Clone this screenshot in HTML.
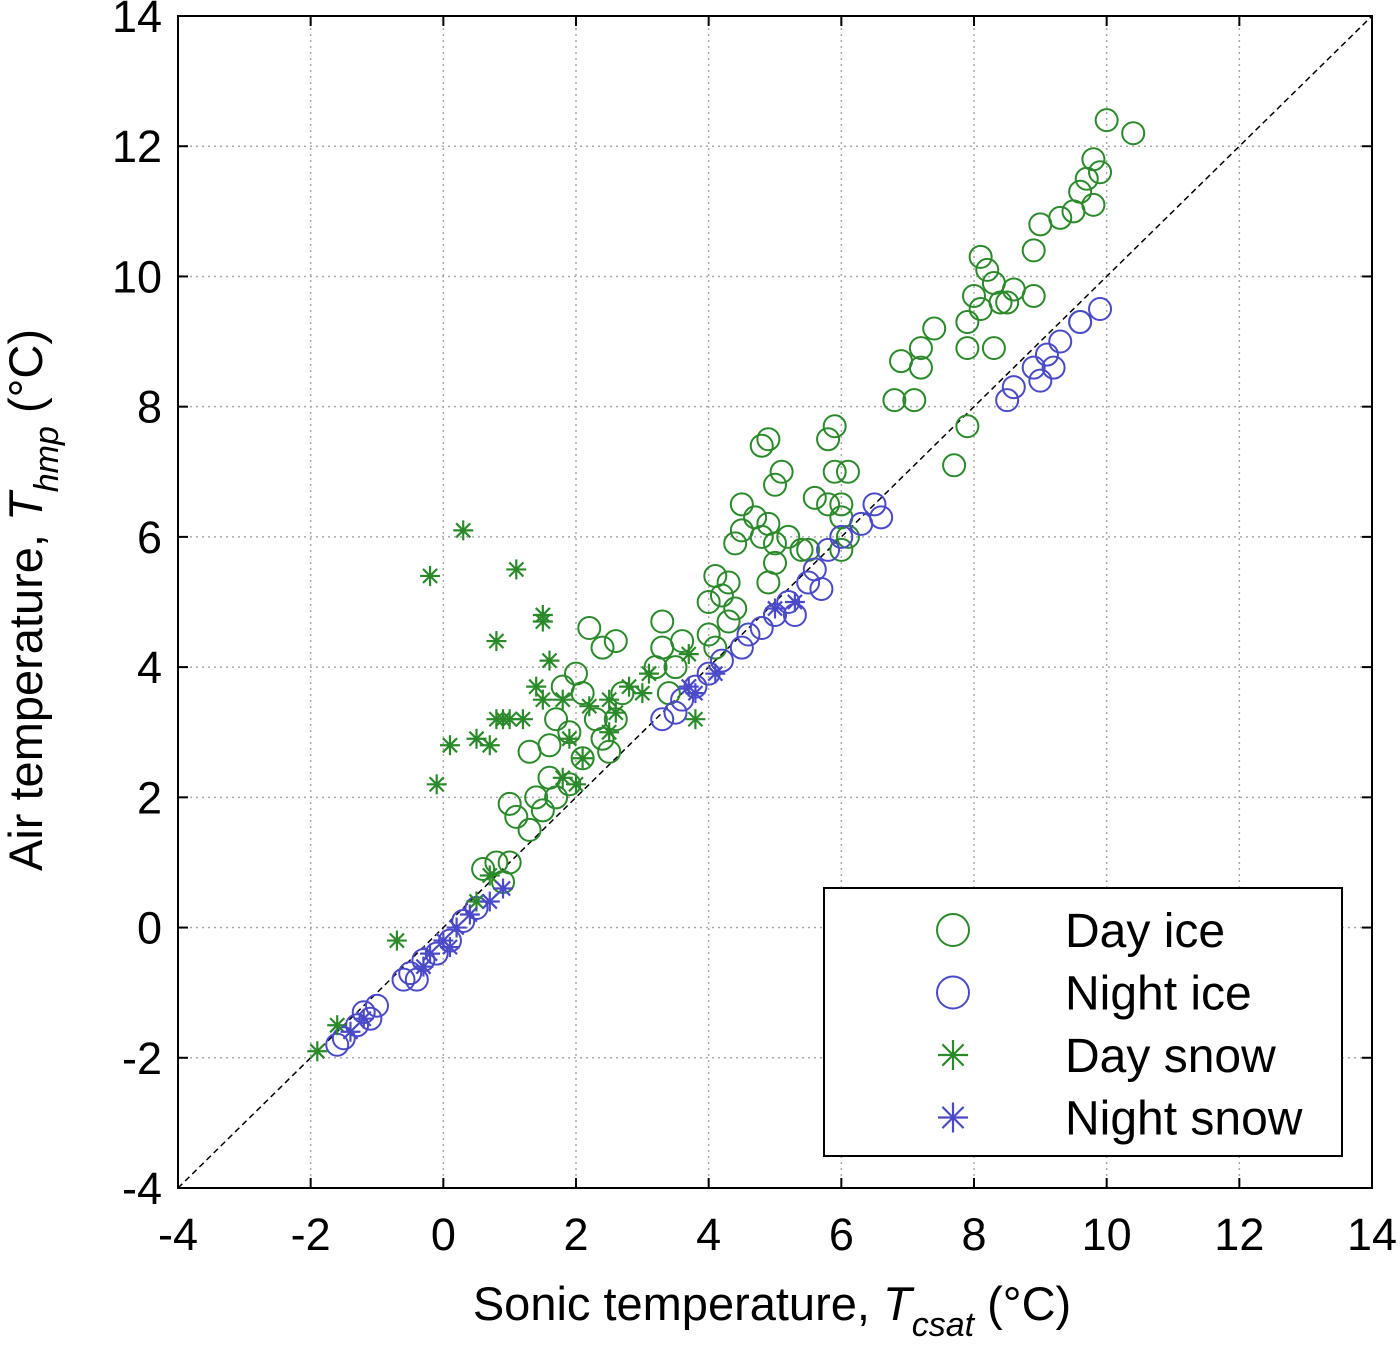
<!DOCTYPE html>
<html><head><meta charset="utf-8"><style>
body{margin:0;background:#fff;}
svg text{font-family:"Liberation Sans",sans-serif;fill:#000;}
</style></head><body>
<svg id="chart" width="1400" height="1345" viewBox="0 0 1400 1345" xmlns="http://www.w3.org/2000/svg"></svg>
<script>
const xTicks=[-4,-2,0,2,4,6,8,10,12,14];
const yTicks=[-4,-2,0,2,4,6,8,10,12,14];
const dayIce=[[10.0,12.4],[10.4,12.2],[9.8,11.8],[9.9,11.6],[9.7,11.5],[9.6,11.3],[9.8,11.1],[9.5,11.0],[9.3,10.9],[9.0,10.8],[8.9,10.4],[8.1,10.3],[8.2,10.1],[8.3,9.9],[8.0,9.7],[8.4,9.6],[8.6,9.8],[8.9,9.7],[8.1,9.5],[8.5,9.6],[7.9,9.3],[7.4,9.2],[7.2,8.9],[8.3,8.9],[7.9,8.9],[6.9,8.7],[7.2,8.6],[6.8,8.1],[7.1,8.1],[7.9,7.7],[7.7,7.1],[9.6,9.3],[5.9,7.7],[5.8,7.5],[4.9,7.5],[4.8,7.4],[5.1,7.0],[5.0,6.8],[5.9,7.0],[6.1,7.0],[5.6,6.6],[5.8,6.5],[6.0,6.5],[4.5,6.5],[4.7,6.3],[4.9,6.2],[4.5,6.1],[4.8,6.0],[4.4,5.9],[5.0,5.9],[5.2,6.0],[5.4,5.8],[5.0,5.6],[4.9,5.3],[5.5,5.8],[6.0,5.8],[6.1,6.0],[6.0,6.3],[4.1,5.4],[4.3,5.3],[4.2,5.1],[4.0,5.0],[4.4,4.9],[4.3,4.7],[3.3,4.7],[3.6,4.4],[3.3,4.3],[3.5,4.0],[3.2,4.0],[3.4,3.6],[4.1,4.3],[4.0,4.5],[2.2,4.6],[2.6,4.4],[2.4,4.3],[2.0,3.9],[2.1,3.6],[1.8,3.7],[1.7,3.2],[2.3,3.2],[2.6,3.2],[2.7,3.6],[1.9,3.0],[1.6,2.8],[2.4,2.9],[2.1,2.6],[2.5,2.7],[1.3,2.7],[1.6,2.3],[1.9,2.2],[1.7,2.0],[1.0,1.9],[1.1,1.7],[1.5,1.8],[1.3,1.5],[0.8,1.0],[1.0,1.0],[0.6,0.9],[0.9,0.7],[1.4,2.0]];
const nightIce=[[9.9,9.5],[9.6,9.3],[9.3,9.0],[9.1,8.8],[9.2,8.6],[8.9,8.6],[9.0,8.4],[8.6,8.3],[8.5,8.1],[6.5,6.5],[6.6,6.3],[6.3,6.2],[6.0,6.0],[5.8,5.8],[5.7,5.2],[5.5,5.3],[5.2,5.0],[5.0,4.8],[4.8,4.6],[4.6,4.5],[5.3,4.8],[4.2,4.1],[4.0,3.9],[3.8,3.7],[3.6,3.5],[3.3,3.2],[3.5,3.3],[4.5,4.3],[5.6,5.5],[0.5,0.3],[0.3,0.1],[0.1,-0.2],[-0.1,-0.4],[-0.3,-0.5],[-0.5,-0.7],[-0.6,-0.8],[-1.0,-1.2],[-1.2,-1.3],[-1.3,-1.5],[-1.5,-1.7],[-1.6,-1.8],[-1.1,-1.4],[-0.4,-0.8]];
const daySnow=[[0.3,6.1],[-0.2,5.4],[1.1,5.5],[1.5,4.8],[1.5,4.7],[0.8,4.4],[1.6,4.1],[1.4,3.7],[1.8,3.5],[2.5,3.5],[2.8,3.7],[3.0,3.6],[2.6,3.3],[1.5,3.5],[2.2,3.4],[1.2,3.2],[0.9,3.2],[1.0,3.2],[0.8,3.2],[0.1,2.8],[0.5,2.9],[0.7,2.8],[-0.1,2.2],[1.9,2.9],[2.1,2.6],[1.8,2.3],[2.0,2.2],[3.7,4.2],[3.1,3.9],[3.8,3.2],[0.7,0.8],[0.5,0.4],[-0.7,-0.2],[-1.6,-1.5],[-1.9,-1.9],[2.5,3.0]];
const nightSnow=[[0.9,0.6],[0.7,0.4],[0.4,0.2],[0.2,0],[0,-0.2],[-0.2,-0.4],[-0.3,-0.6],[0.1,-0.3],[-1.2,-1.4],[-1.4,-1.6],[4.1,3.9],[3.8,3.6],[3.7,3.7],[5.0,4.9],[5.3,5.0]];

const L=178,R=1372,T=16,B=1188,xmin=-4,xmax=14,ymin=-4,ymax=14;
const sx=v=>L+(v-xmin)/(xmax-xmin)*(R-L);
const sy=v=>B-(v-ymin)/(ymax-ymin)*(B-T);
const NS='http://www.w3.org/2000/svg';
const svg=document.getElementById('chart');
function mk(tag,attrs,parent){const e=document.createElementNS(NS,tag);for(const k in attrs)e.setAttribute(k,attrs[k]);(parent||svg).appendChild(e);return e;}
const GREEN='#2a8a2a',BLUE='#4a4ac8';

const grid=mk('g',{});


xTicks.slice(1,-1).forEach(v=>{mk('line',{x1:sx(v),x2:sx(v),y1:T,y2:B,stroke:'#aaa','stroke-width':1.5,'stroke-dasharray':'2,4'},grid);});
yTicks.slice(1,-1).forEach(v=>{mk('line',{x1:L,x2:R,y1:sy(v),y2:sy(v),stroke:'#aaa','stroke-width':1.5,'stroke-dasharray':'2,4'},grid);});

const frame=mk('rect',{x:L,y:T,width:R-L,height:B-T,fill:'none',stroke:'#000','stroke-width':2});



const ticks=mk('g',{});


xTicks.forEach(v=>{mk('line',{x1:sx(v),x2:sx(v),y1:B,y2:B-10,stroke:'#000','stroke-width':2},ticks);mk('line',{x1:sx(v),x2:sx(v),y1:T,y2:T+10,stroke:'#000','stroke-width':2},ticks);
 const t=mk('text',{x:sx(v),y:B+62,'font-size':45,'text-anchor':'middle'});t.textContent=v;
 
 });
yTicks.forEach(v=>{mk('line',{x1:L,x2:L+10,y1:sy(v),y2:sy(v),stroke:'#000','stroke-width':2},ticks);mk('line',{x1:R,x2:R-10,y1:sy(v),y2:sy(v),stroke:'#000','stroke-width':2},ticks);
 const t=mk('text',{x:L-16,y:sy(v)+16,'font-size':45,'text-anchor':'end'});t.textContent=v;
 
 });

const diag=mk('line',{x1:sx(-4),y1:sy(-4),x2:sx(14),y2:sy(14),stroke:'#000','stroke-width':1.5,'stroke-dasharray':'6,4'});



function star(g,x,y,c,r){for(let i=0;i<4;i++){const a=i*Math.PI/4;mk('line',{x1:x-r*Math.cos(a),y1:y-r*Math.sin(a),x2:x+r*Math.cos(a),y2:y+r*Math.sin(a),stroke:c,'stroke-width':2.2},g);}}
function series(data,name,c,type){const g=mk('g',{});
 
 
 data.forEach(d=>{if(type==='o')mk('circle',{cx:sx(d[0]),cy:sy(d[1]),r:11,fill:'none',stroke:c,'stroke-width':2},g);else star(g,sx(d[0]),sy(d[1]),c,10);});}
series(dayIce,'series-day-ice',GREEN,'o');
series(nightIce,'series-night-ice',BLUE,'o');
series(daySnow,'series-day-snow',GREEN,'*');
series(nightSnow,'series-night-snow',BLUE,'*');

const lg=mk('g',{});


mk('rect',{x:824,y:888,width:518,height:268,fill:'#fff',stroke:'#000','stroke-width':2},lg);
const entries=[['Day ice',GREEN,'o'],['Night ice',BLUE,'o'],['Day snow',GREEN,'*'],['Night snow',BLUE,'*']];
entries.forEach((e,i)=>{const y=930+i*62.5;
 if(e[2]==='o')mk('circle',{cx:953,cy:y,r:16,fill:'none',stroke:e[1],'stroke-width':2},lg);else star(lg,953,y,e[1],15);
 const t=mk('text',{x:1065,y:y+17,'font-size':48},lg);t.textContent=e[0];
 
 });

const xl=mk('text',{x:772,y:1320,'font-size':47,'text-anchor':'middle'});
xl.innerHTML='Sonic temperature, <tspan font-style="italic">T</tspan><tspan font-style="italic" font-size="34" dy="16">csat</tspan><tspan dy="-16"> (°C)</tspan>';


const yl=mk('text',{x:0,y:0,'font-size':47,'text-anchor':'middle',transform:'translate(42,600) rotate(-90)'});
yl.innerHTML='Air temperature, <tspan font-style="italic">T</tspan><tspan font-style="italic" font-size="34" dy="16">hmp</tspan><tspan dy="-16"> (°C)</tspan>';


</script>
</body></html>
